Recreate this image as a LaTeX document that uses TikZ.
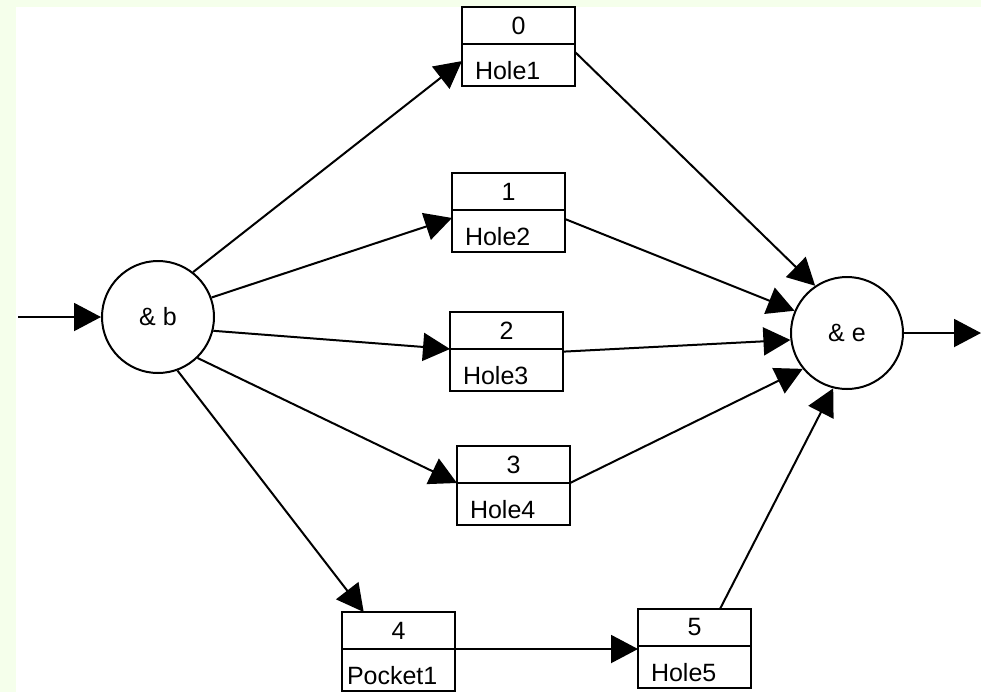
\documentclass[tikz,border=0pt]{standalone}
\usepackage{fontspec}
\setmainfont{Liberation Sans}
\usepackage{tikz}
\usetikzlibrary{positioning}
\usetikzlibrary{arrows.meta}

\definecolor{paper}{RGB}{245,255,235}

\tikzset{
	gate/.style={draw, circle, line width=1pt, minimum size=56pt, inner sep=0pt, font=\fontsize{12.5}{15}\selectfont},
	cell/.style={draw, rectangle, line width=1pt, outer sep=0pt, minimum width=56.5pt, font=\fontsize{12.5}{15}\selectfont},
	num/.style={cell, minimum height=18.5pt, inner sep=0pt, anchor=north west},
	part/.style={cell, minimum height=21pt, text width=43.5pt, inner xsep=6.5pt, inner ysep=0pt, align=left, text height=14.5pt, text depth=0pt},
	edge/.style={->, >={Triangle[length=13.5pt,width=14pt]}, line width=1pt}
}

\begin{document}
\begin{tikzpicture}[x=0.5pt, y=-0.5pt]
	
	\useasboundingbox (0,0) rectangle (981,692);
	\fill[paper] (0,0) rectangle (981,692);
	\fill[white] (16,7) rectangle (981,692);
	
	% begin and end gates
	\node[gate] (b) at (158,317) {\& b\hspace{5pt}};
	\node[gate] (e) at (847,333) {\& e\hspace{4pt}};
	
	\coordinate (in) at (18,317);
	\coordinate (out) at (981,333);
	
	% features: number on top, name below
	\node[num] (n0) at (462,7) {0};
	\node[part, below=0pt of n0] (h0) {Hole1};
	
	\node[num] (n1) at (452,173) {1};
	\node[part, below=0pt of n1] (h1) {Hole2};
	
	\node[num] (n2) at (450,312) {2};
	\node[part, below=0pt of n2] (h2) {Hole3};
	
	\node[num] (n3) at (457,446) {3};
	\node[part, below=0pt of n3] (h3) {Hole4};
	
	\node[num] (n4) at (342,612) {4};
	\node[part, below=0pt of n4, inner xsep=2.5pt, text width=51.5pt] (h4) {Pocket1};
	
	\node[num] (n5) at (638,609) {5};
	\node[part, below=0pt of n5] (h5) {Hole5};
	
	% precedence arcs
	\draw[edge] (in) -- (b);
	\draw[edge] (b.52) -- (h0.176);
	\draw[edge] (b.20) -- (h1.167);
	\draw[edge] (b.-14) -- (h2.north west);
	\draw[edge] (b.-46) -- (h3.north west);
	\draw[edge] (b.-70) -- (n4.152);
	
	\draw[edge] (h4.north east) -- (h4.north east -| h5.west);
	
	\draw[edge] (h0.13) -- (e.124);
	\draw[edge] (h1.12) -- (e.157);
	\draw[edge] (h2.18) -- (e.187);
	\draw[edge] (h3.north east) -- (e.219);
	\draw[edge] (n5.36) -- (e.256);
	\draw[edge] (e) -- (out);
	
\end{tikzpicture}
\end{document}
